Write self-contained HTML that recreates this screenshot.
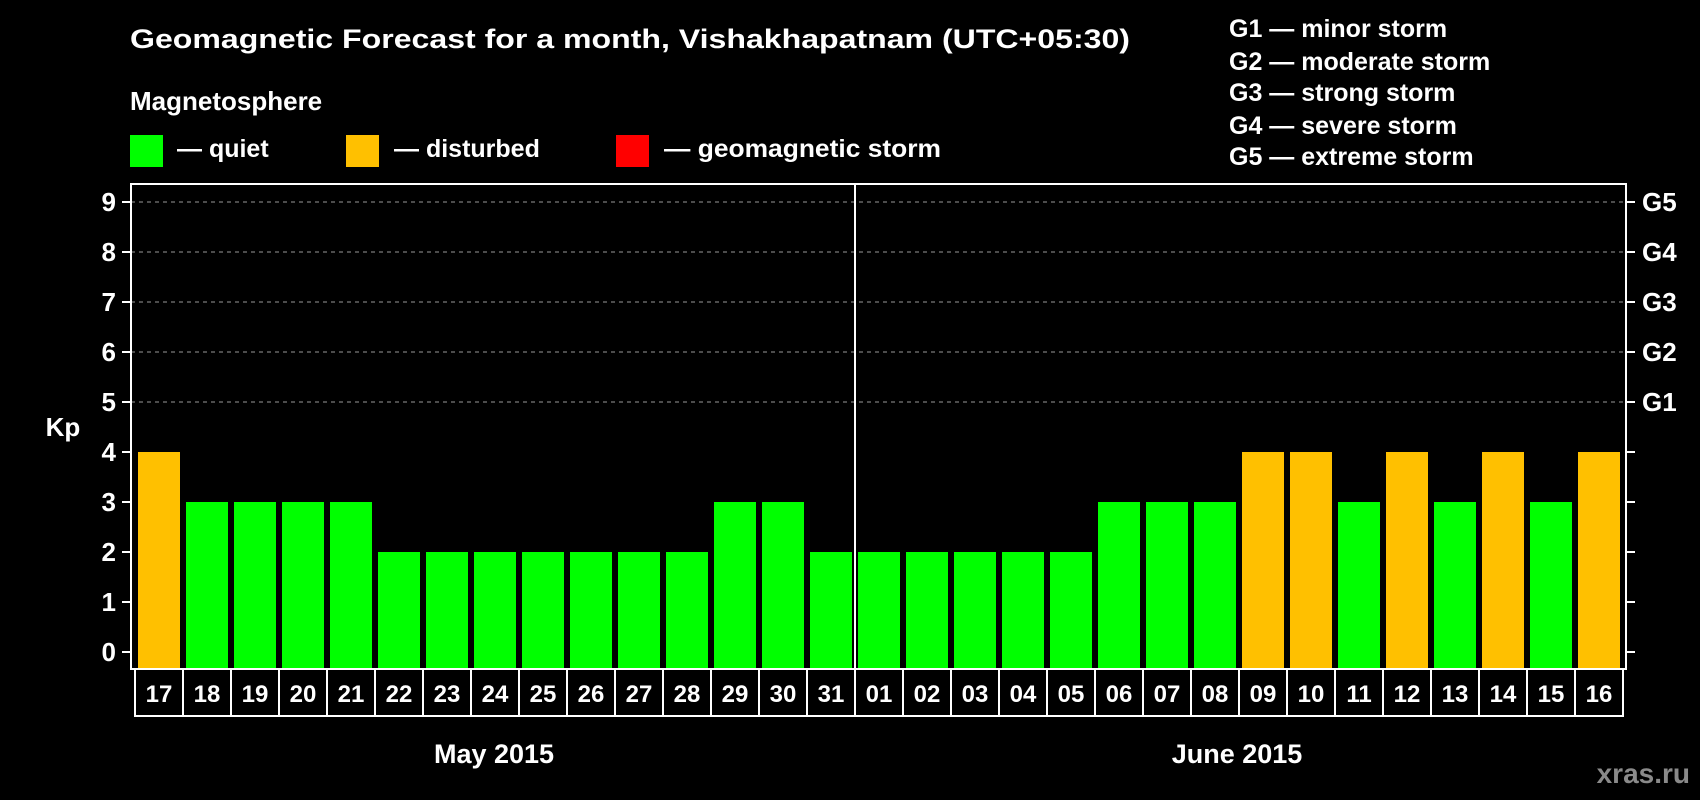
<!DOCTYPE html>
<html><head><meta charset="utf-8"><style>
html,body{margin:0;padding:0;background:#000;width:1700px;height:800px;overflow:hidden}
svg{display:block;font-family:"Liberation Sans",Arial,sans-serif;font-weight:bold}
</style></head><body>
<svg id="chart" width="1700" height="800">
<rect width="1700" height="800" fill="#000"/>
<text x="130" y="48" font-size="27" fill="#fff" textLength="1000" lengthAdjust="spacingAndGlyphs">Geomagnetic Forecast for a month, Vishakhapatnam (UTC+05:30)</text>
<text x="130" y="110" font-size="26" fill="#fff">Magnetosphere</text>
<rect x="130" y="135" width="33" height="32" fill="#00ff00"/>
<text x="177" y="157" font-size="25" fill="#fff">— quiet</text>
<rect x="346" y="135" width="33" height="32" fill="#ffc000"/>
<text x="394" y="157" font-size="25" fill="#fff">— disturbed</text>
<rect x="616" y="135" width="33" height="32" fill="#ff0000"/>
<text x="664" y="157" font-size="25" fill="#fff" textLength="277" lengthAdjust="spacingAndGlyphs">— geomagnetic storm</text>
<g font-size="25" fill="#fff">
<text x="1229" y="37">G1 — minor storm</text>
<text x="1229" y="70">G2 — moderate storm</text>
<text x="1229" y="101">G3 — strong storm</text>
<text x="1229" y="134">G4 — severe storm</text>
<text x="1229" y="165">G5 — extreme storm</text>
</g>
<text x="63" y="436" font-size="26" fill="#fff" text-anchor="middle">Kp</text>
<text x="494" y="763" font-size="27" fill="#fff" text-anchor="middle">May 2015</text>
<text x="1237" y="763" font-size="27" fill="#fff" text-anchor="middle">June 2015</text>
<text x="1690" y="783" font-size="28" fill="#8a8a8a" text-anchor="end">xras.ru</text>
<g id="plot"></g>
</svg>
<script>
const days = ["17","18","19","20","21","22","23","24","25","26","27","28","29","30","31","01","02","03","04","05","06","07","08","09","10","11","12","13","14","15","16"];
const kpValues = [4,3,3,3,3,2,2,2,2,2,2,2,3,3,2,2,2,2,2,2,3,3,3,4,4,3,4,3,4,3,4];
const yTicks = [0,1,2,3,4,5,6,7,8,9];
const gLabels = ["G1","G2","G3","G4","G5"];
const gLevels = [5,6,7,8,9];

(function(){
const NS = "http://www.w3.org/2000/svg";
const plot = document.getElementById("plot");
const plotLeft = 131, plotRight = 1626, plotTop = 184, plotBottom = 669;
const slotStart = 135, slot = 48;
function y(v){ return 652 - v * 50; }
function x(i){ return slotStart + i * slot; }
function mk(tag, attrs){ const e = document.createElementNS(NS, tag); for (const k in attrs) e.setAttribute(k, attrs[k]); plot.appendChild(e); return e; }

gLevels.forEach(g => {
  const l = mk("line", {x1:plotLeft, x2:plotRight, y1:y(g), y2:y(g), stroke:"#999", "stroke-width":1, "stroke-dasharray":"4,4"});
  
  
});
kpValues.forEach((v, i) => {
  const r = mk("rect", {x:x(i)+3, y:y(v), width:42, height:plotBottom - y(v), fill: v >= 5 ? "#ff0000" : (v >= 4 ? "#ffc000" : "#00ff00")});
  
  
});
const frame = mk("rect", {x:plotLeft, y:plotTop, width:plotRight-plotLeft, height:plotBottom-plotTop, fill:"none", stroke:"#fff", "stroke-width":2});


const div = mk("line", {x1:x(15), x2:x(15), y1:plotTop, y2:plotBottom, stroke:"#fff", "stroke-width":2});


yTicks.forEach(t => {
  const tl = mk("line", {x1:plotLeft-9, x2:plotLeft, y1:y(t), y2:y(t), stroke:"#fff", "stroke-width":2});
  
  
  const tr = mk("line", {x1:plotRight, x2:plotRight+9, y1:y(t), y2:y(t), stroke:"#fff", "stroke-width":2});
  
  
  const tx = mk("text", {x:116, y:y(t)+9, "font-size":26, fill:"#fff", "text-anchor":"end"});
  tx.textContent = t;
  
  
});
gLabels.forEach((g, i) => {
  const t = mk("text", {x:1642, y:y(gLevels[i])+9, "font-size":26, fill:"#fff"});
  t.textContent = g;
  
  
});
const box = mk("rect", {x:slotStart, y:plotBottom, width:slot*days.length, height:47, fill:"none", stroke:"#fff", "stroke-width":2});


days.forEach((d, i) => {
  if (i > 0) {
    const s = mk("line", {x1:x(i), x2:x(i), y1:plotBottom, y2:plotBottom+47, stroke:"#fff", "stroke-width":2});
    
    
  }
  const t = mk("text", {x:x(i)+24, y:plotBottom+33, "font-size":24, fill:"#fff", "text-anchor":"middle"});
  t.textContent = d;
  
  
});
})();
</script>
</body></html>
